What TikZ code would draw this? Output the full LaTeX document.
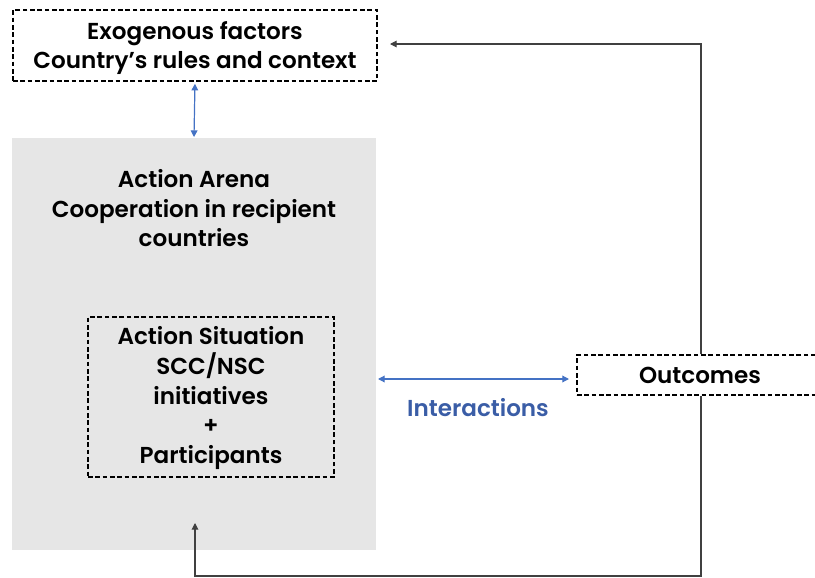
\documentclass[tikz,border=0pt]{standalone}
\usepackage{fontspec}
\setmainfont{Poppins}[UprightFont=* SemiBold]
\usetikzlibrary{arrows.meta}
\definecolor{arenagrey}{HTML}{E6E6E6}
\definecolor{arrowblue}{HTML}{4472C4}
\definecolor{textblue}{HTML}{3A5DA6}
\definecolor{linegrey}{HTML}{404040}
\begin{document}
\begin{tikzpicture}[x=0.75pt,y=-0.75pt,
  dashbox/.style={draw=black, line width=1.1pt, dash pattern=on 3.5pt off 2pt, align=center, inner sep=0pt},
  lbl/.style={font=\fontsize{17.3}{22.2}\selectfont, align=center, text=black},
  bluearrow/.style={draw=arrowblue, line width=0.9pt, {Triangle[length=5pt,width=5pt]}-{Triangle[length=5pt,width=5pt]}},
  feedback/.style={draw=linegrey, line width=0.8pt, -{Triangle[length=5pt,width=5pt]}}]
\useasboundingbox (0,0) rectangle (815,578);
% Exogenous factors
\node[dashbox, minimum width=273pt, minimum height=53.25pt] (exo) at (195,45.5) {};
\node[lbl] (exotxt) at (195,48) {Exogenous factors\\Country’s rules and context};
% Action arena
\node[fill=arenagrey, draw=none, minimum width=273pt, minimum height=309pt, inner sep=0pt] (arena) at (194,344) {};
\node[lbl, anchor=north] (arenatxt) at (194,165) {Action Arena\\Cooperation in recipient\\countries};
% Action situation
\node[dashbox, minimum width=184.5pt, minimum height=120pt] (sit) at (211,397) {};
\node[lbl] (sittxt) at (211,398) {Action Situation\\SCC/NSC\\initiatives\\+\\Participants};
% Outcomes
\node[dashbox, lbl, minimum width=184.5pt, minimum height=30pt] (outc) at (700,375) {Outcomes};
% Interactions
\coordinate (il) at (378,379);
\coordinate (ir) at (569,379);
\draw[bluearrow] (il) -- (ir);
\node[lbl, text=textblue] (inter) at (478,408) {Interactions};
% exo <-> arena
\draw[bluearrow, shorten >=0.5pt, shorten <=1.5pt] (exo.south) -- (arena.north);
% feedback loops
\coordinate (tr) at (701,44);
\coordinate (tl) at (390,44);
\draw[feedback] (outc.north -| tr) -- (tr) -- (tl);
\coordinate (br) at (701,576);
\coordinate (bl) at (195,576);
\coordinate (bt) at (195,523);
\draw[feedback] (outc.south -| br) -- (br) -- (bl) -- (bt);
\end{tikzpicture}
\end{document}
